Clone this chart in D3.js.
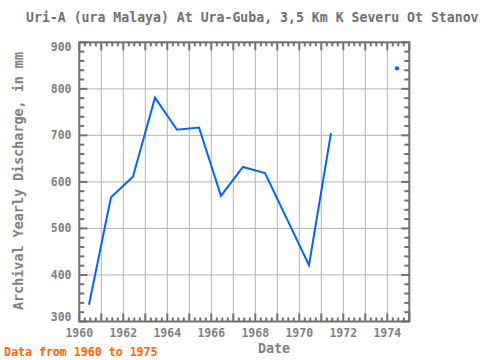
<!DOCTYPE html>
<html>
<head>
<meta charset="utf-8">
<script src="https://cdn.jsdelivr.net/npm/d3@7"></script>
<style>
  html, body { margin: 0; padding: 0; background: #fff; }
  svg { display: block; }
  text { font-family: "DejaVu Sans Mono", "Liberation Mono", monospace; font-weight: bold; }
</style>
</head>
<body>
<svg id="chart" width="480" height="360"></svg>
<script>
// ---- data ----
const years = [1960, 1961, 1962, 1963, 1964, 1965, 1966, 1967, 1968, 1969, 1970, 1971, 1972, 1973, 1974];
const discharge = [336, 567, 611, 781, 712, 717, 570, 632, 619, 520, 421, 705, null, null, 844];
const xTickLabels = [1960, 1962, 1964, 1966, 1968, 1970, 1972, 1974];
const yTickLabels = [300, 400, 500, 600, 700, 800, 900];
const titleText = "Uri-A (ura Malaya) At Ura-Guba, 3,5 Km K Severu Ot Stanov";
const yTitle = "Archival Yearly Discharge, in mm";
const xTitle = "Date";
const footer = "Data from 1960 to 1975";

// ---- layout ----
const pL = 79.3, pR = 409.3, pT = 42.3, pB = 321.5;
const midYear = 0.44;
const frameColor = "#707070", gridColor = "#b4b4b4", textColor = "#808080";

const svg = d3.select("#chart");
const x = d3.scaleLinear().domain([1960, 1975]).range([pL, pR]);
const y = d3.scaleLinear().domain([300, 900]).range([pB, pT]);

// grid
const g = svg.append("g");
g.selectAll("line.gx").data(d3.range(1961, 1975)).enter().append("line")
  .attr("x1", d => x(d)).attr("x2", d => x(d)).attr("y1", pT).attr("y2", pB)
  .attr("stroke", gridColor).attr("stroke-width", 1);
g.selectAll("line.gy").data(d3.range(400, 900, 100)).enter().append("line")
  .attr("y1", d => y(d)).attr("y2", d => y(d)).attr("x1", pL).attr("x2", pR)
  .attr("stroke", gridColor).attr("stroke-width", 1);

// ticks (inside, all four sides)
const xMinor = d3.range(1960, 1975.001, 0.25);
const yMinor = d3.range(300, 900.001, 20);
const isMajorX = d => Math.abs(d - Math.round(d)) < 1e-6;
const isMajorY = d => Math.abs(d % 100) < 1e-6;
const tk = svg.append("g").attr("stroke", frameColor).attr("stroke-width", 2);
xMinor.forEach(d => {
  const len = isMajorX(d) ? 8 : 4;
  tk.append("line").attr("x1", x(d)).attr("x2", x(d)).attr("y1", pB).attr("y2", pB - len);
  tk.append("line").attr("x1", x(d)).attr("x2", x(d)).attr("y1", pT).attr("y2", pT + len);
});
yMinor.forEach(d => {
  const len = isMajorY(d) ? 8 : 5;
  tk.append("line").attr("y1", y(d)).attr("y2", y(d)).attr("x1", pL).attr("x2", pL + len);
  tk.append("line").attr("y1", y(d)).attr("y2", y(d)).attr("x1", pR).attr("x2", pR - len);
});

// frame
svg.append("rect").attr("x", pL).attr("y", pT).attr("width", pR - pL).attr("height", pB - pT)
  .attr("fill", "none").attr("stroke", frameColor).attr("stroke-width", 2);

// tick labels
svg.append("g").selectAll("text").data(xTickLabels).enter().append("text")
  .attr("x", d => x(d)).attr("y", 337).attr("text-anchor", "middle")
  .attr("font-size", 11.5).attr("fill", textColor).text(d => d);
svg.append("g").selectAll("text").data(yTickLabels).enter().append("text")
  .attr("x", 71.5)
  .attr("y", d => Math.max(pT + 5, Math.min(pB - 4.5, y(d))) + 4)
  .attr("text-anchor", "end")
  .attr("font-size", 11.5).attr("fill", textColor).text(d => d);

// data line
const pts = years.map((yr, i) => ({ x: yr + midYear, v: discharge[i], i }));
const line = d3.line().defined(d => d.v !== null).x(d => x(d.x)).y(d => y(d.v));
svg.append("path").datum(pts).attr("d", line)
  .attr("fill", "none").attr("stroke", "#0064ff").attr("stroke-width", 2).attr("stroke-linejoin", "miter");
// isolated points
const isolated = pts.filter(d => d.v !== null &&
  (d.i === 0 || discharge[d.i - 1] === null) && (d.i === years.length - 1 || discharge[d.i + 1] === null));
svg.append("g").selectAll("circle").data(isolated).enter().append("circle")
  .attr("cx", d => x(d.x)).attr("cy", d => y(d.v)).attr("r", 2.2).attr("fill", "#0064ff");

// titles
svg.append("text").attr("x", 26).attr("y", 21.5).attr("font-size", 13.2).attr("fill", "#707070").text(titleText);
svg.append("text").attr("transform", "translate(23," + 181 + ") rotate(-90)").attr("text-anchor", "middle")
  .attr("font-size", 13.4).attr("fill", textColor).text(yTitle);
svg.append("text").attr("x", 274).attr("y", 353).attr("text-anchor", "middle")
  .attr("font-size", 13.4).attr("fill", textColor).text(xTitle);
svg.append("text").attr("x", 4).attr("y", 356).attr("font-size", 11.6).attr("fill", "#ff6600").text(footer);
</script>
</body>
</html>
